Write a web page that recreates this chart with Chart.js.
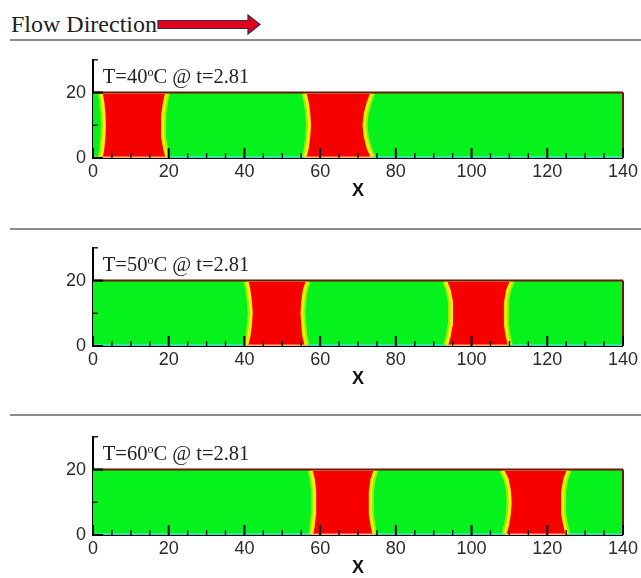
<!DOCTYPE html>
<html>
<head>
<meta charset="utf-8">
<script src="https://cdn.jsdelivr.net/npm/chart.js@4.4.0/dist/chart.umd.min.js"></script>
<style>
  body { margin: 0; background: #fff; width: 641px; height: 578px; overflow: hidden; position: relative; }
  .sep { position: absolute; left: 10px; right: 0; height: 2px; background: #8c8c8c; }
  canvas { position: absolute; left: 0; }
  svg { position: absolute; left: 0; top: 0; }
</style>
</head>
<body>
<svg width="641" height="40">
  <text x="11" y="32" font-family="Liberation Serif" font-size="24" fill="#222">Flow Direction</text>
  <polygon points="158,20.5 248,20.5 248,15 260,24.5 248,34 248,28.5 158,28.5" fill="#e2001a" stroke="#3a2a4a" stroke-width="1.2"/>
</svg>
<div class="sep" style="top:39px"></div>
<div class="sep" style="top:228px"></div>
<div class="sep" style="top:414px"></div>
<canvas id="p1" width="641" height="160" style="top:42px"></canvas>
<canvas id="p2" width="641" height="160" style="top:230px"></canvas>
<canvas id="p3" width="641" height="160" style="top:419px"></canvas>
<script>
// axis ticks
const xTickLabels = [0, 20, 40, 60, 80, 100, 120, 140];
const yTickLabels = [0, 20];

// panel captions
const temps = [40, 50, 60];
const times = [2.81, 2.81, 2.81];

// channel wall height
const wallY = 20;

// heights at which the slug interfaces were read
const edgeY = [0.2, 3, 6.5, 10, 13.5, 17, 19.8];

// T=40 : two liquid slugs, left and right interface x at each edgeY
const left40 = [
  [2.2, 2.6, 2.9, 3.0, 2.9, 2.6, 2.2],
  [56.0, 56.6, 57.0, 57.2, 57.0, 56.6, 56.0]
];
const right40 = [
  [19.5, 18.9, 18.45, 18.3, 18.45, 18.9, 19.4],
  [73.8, 72.7, 71.9, 71.6, 71.9, 72.7, 73.6]
];

// T=50
const left50 = [
  [40.6, 41.2, 41.6, 41.8, 41.6, 41.2, 40.7],
  [93.4, 94.1, 94.6, 94.8, 94.6, 94.1, 93.2]
];
const right50 = [
  [56.3, 55.7, 55.4, 55.2, 55.4, 55.8, 56.6],
  [110.0, 109.4, 109.0, 108.9, 109.0, 109.5, 110.5]
];

// T=60
const left60 = [
  [57.8, 58.2, 58.5, 58.6, 58.5, 58.2, 57.6],
  [108.8, 109.5, 110.0, 110.2, 110.0, 109.4, 108.2]
];
const right60 = [
  [74.2, 73.7, 73.3, 73.2, 73.3, 73.7, 74.5],
  [125.2, 124.6, 124.1, 124.0, 124.1, 124.6, 125.5]
];

const GREEN = '#06f21c';
const RED = '#f60000';
const YELLOW = '#f6ee00';

function slugPoints(lx, rx) {
  const pts = [];
  for (let i = 0; i < edgeY.length; i++) pts.push({ x: lx[i], y: edgeY[i] });
  for (let i = edgeY.length - 1; i >= 0; i--) pts.push({ x: rx[i], y: edgeY[i] });
  pts.push({ x: lx[0], y: edgeY[0] });
  return pts;
}

const flatSeg = ctx => ctx.p0.parsed.y === ctx.p1.parsed.y;

const panelDecor = {
  id: 'panelDecor',
  afterDraw(chart, args, opts) {
    const { ctx, chartArea } = chart;
    const xs = chart.scales.x, ys = chart.scales.y;
    ctx.save();
    ctx.strokeStyle = '#000';
    xs.ticks.forEach(t => {
      const major = xTickLabels.includes(t.value);
      const px = xs.getPixelForValue(t.value);
      ctx.lineWidth = major ? 2 : 1.3;
      ctx.beginPath();
      ctx.moveTo(px, chartArea.bottom);
      ctx.lineTo(px, chartArea.bottom - (major ? 10 : 5));
      ctx.stroke();
    });
    ys.ticks.forEach(t => {
      const major = yTickLabels.includes(t.value);
      const py = ys.getPixelForValue(t.value);
      ctx.lineWidth = major ? 2 : 1.3;
      ctx.beginPath();
      ctx.moveTo(chartArea.left, py);
      ctx.lineTo(chartArea.left + (major ? 10 : 5), py);
      ctx.stroke();
    });
    // caption
    let cx = xs.getPixelForValue(2.6);
    const cy = ys.getPixelForValue(22.8);
    ctx.fillStyle = '#222';
    ctx.textBaseline = 'alphabetic';
    ctx.font = '20.5px "Liberation Serif"';
    const pre = 'T=' + opts.temp;
    ctx.fillText(pre, cx, cy);
    cx += ctx.measureText(pre).width;
    ctx.font = '12px "Liberation Serif"';
    ctx.fillText('o', cx, cy - 7.5);
    cx += ctx.measureText('o').width;
    ctx.font = '20.5px "Liberation Serif"';
    ctx.fillText('C @ t=' + opts.time, cx, cy);
    ctx.restore();
  }
};

function makePanel(id, lefts, rights, temp, time) {
  const datasets = [];
  datasets.push({
    data: [{ x: 0, y: wallY }, { x: 140, y: wallY }],
    borderColor: '#6e1600', borderWidth: 2, order: 1, clip: false
  });
  datasets.push({
    data: [{ x: 140, y: 0 }, { x: 140, y: wallY }],
    borderColor: '#6e1600', borderWidth: 2, order: 1, clip: false
  });
  lefts.forEach((lx, i) => {
    const pts = slugPoints(lx, rights[i]);
    // interface line
    datasets.push({
      data: pts, fill: false,
      borderColor: YELLOW, borderWidth: 3, order: 3,
      segment: {
        borderColor: c => flatSeg(c) ? '#ffb27a' : undefined,
        borderWidth: c => flatSeg(c) ? 1.5 : undefined
      }
    });
    // liquid slug body
    datasets.push({
      data: pts, fill: 'shape', backgroundColor: RED,
      borderWidth: 0, order: 4
    });
    // soft halo on the gas side
    datasets.push({
      data: pts, fill: false,
      borderColor: 'rgba(175,240,10,0.85)', borderWidth: 7, order: 5,
      segment: { borderColor: c => flatSeg(c) ? 'rgba(0,0,0,0)' : undefined }
    });
  });
  datasets.push({
    data: [{ x: 0, y: 0.3 }, { x: 140, y: 0.3 }],
    borderColor: '#3fe0d8', borderWidth: 1.5, order: 6
  });
  datasets.push({
    data: [{ x: 0, y: wallY }, { x: 140, y: wallY }],
    fill: 'origin', backgroundColor: GREEN, borderWidth: 0, order: 10
  });
  datasets.forEach(d => { d.showLine = true; d.pointRadius = 0; d.tension = 0; });

  new Chart(document.getElementById(id), {
    type: 'scatter',
    data: { datasets },
    options: {
      responsive: false,
      animation: false,
      layout: { padding: { top: 4, right: 18, left: 0, bottom: 0 } },
      plugins: {
        legend: { display: false },
        tooltip: { enabled: false },
        panelDecor: { temp, time }
      },
      scales: {
        x: {
          type: 'linear', min: 0, max: 140, z: 1,
          grid: { display: false, drawTicks: false },
          border: { display: true, color: '#000', width: 2 },
          ticks: {
            stepSize: 5, autoSkip: false, maxRotation: 0, padding: 3,
            color: '#2b2b2b', font: { family: 'Liberation Sans', size: 18 },
            callback: v => xTickLabels.includes(v) ? String(v) : ''
          },
          title: {
            display: true, text: 'X', color: '#111',
            font: { family: 'Liberation Sans', size: 18, weight: 'bold' },
            padding: { top: 0, bottom: 0 }
          },
          afterFit: s => { s.height = 44; }
        },
        y: {
          type: 'linear', min: 0, max: 30, z: 1,
          grid: { display: false, drawTicks: false },
          border: { display: true, color: '#000', width: 2 },
          ticks: {
            stepSize: 5, padding: 7,
            color: '#2b2b2b', font: { family: 'Liberation Sans', size: 18 },
            callback: v => yTickLabels.includes(v) ? String(v) : ''
          },
          afterFit: s => { s.width = 93; }
        }
      }
    },
    plugins: [panelDecor]
  });
}

makePanel('p1', left40, right40, temps[0], times[0]);
makePanel('p2', left50, right50, temps[1], times[1]);
makePanel('p3', left60, right60, temps[2], times[2]);
</script>
</body>
</html>
